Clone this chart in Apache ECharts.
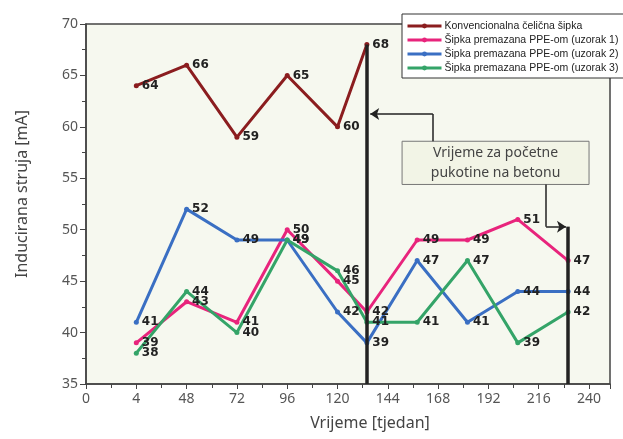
<!DOCTYPE html>
<html>
<head>
<meta charset="utf-8">
<script src="https://cdn.jsdelivr.net/npm/echarts@6/dist/echarts.min.js"></script>
<style>
  html, body { margin: 0; padding: 0; background: #fff; }
  #chart { width: 623px; height: 439px; }
</style>
</head>
<body>
<div id="chart"></div>
<script>
// podaci
const xTickLabels = ['0', '4', '48', '72', '96', '120', '144', '168', '192', '216', '240'];
const weeks = [24, 48, 72, 96, 120, 134, 158, 182, 206, 230];
const seriesNames = [
  'Konvencionalna čelična šipka',
  'Šipka premazana PPE-om (uzorak 1)',
  'Šipka premazana PPE-om (uzorak 2)',
  'Šipka premazana PPE-om (uzorak 3)'
];
const conventional = [64, 66, 59, 65, 60, 68];
const sample1 = [39, 43, 41, 50, 45, 42, 49, 49, 51, 47];
const sample2 = [41, 52, 49, 49, 42, 39, 47, 41, 44, 44];
const sample3 = [38, 44, 40, 49, 46, 41, 41, 47, 39, 42];
const colors = ['#8b1d1f', '#e8247c', '#3a6fc3', '#34a468'];

// vrijeme pojave pukotina (x, vrh linije)
const crackLines = [[134, 68], [230, 50.3]];
const noteText = 'Vrijeme za početne\npukotine na betonu';

const chart = echarts.init(document.getElementById('chart'));

function pairs(values) {
  return values.map((v, i) => [weeks[i], v]);
}

const allValues = [conventional, sample1, sample2, sample3];

const lineSeries = allValues.map((vals, i) => ({
  name: seriesNames[i],
  type: 'line',
  data: pairs(vals),
  color: colors[i],
  symbol: 'circle',
  symbolSize: 5,
  lineStyle: { width: 3, color: colors[i] },
  itemStyle: { color: colors[i] },
  z: 3,
  label: {
    show: true,
    position: 'right',
    distance: 3,
    color: '#222',
    fontFamily: 'DejaVu Sans',
    fontWeight: 'bold',
    fontSize: 12
  },
  emphasis: { disabled: true }
}));

// crte i strelice napomene
const annotation = {
  type: 'line',
  data: [],
  silent: true,
  z: 2,
  markLine: {
    silent: true,
    symbol: ['none', 'none'],
    symbolSize: 9,
    label: { show: false },
    emphasis: { disabled: true },
    lineStyle: { color: '#222', width: 1.5, type: 'solid' },
    data: [
      [{ coord: [crackLines[0][0], 35], lineStyle: { width: 3.5 } }, { coord: [crackLines[0][0], crackLines[0][1]] }],
      [{ coord: [crackLines[1][0], 35], lineStyle: { width: 3.5 } }, { coord: [crackLines[1][0], crackLines[1][1]] }],
      [{ coord: [165.5, 58.6] }, { coord: [165.5, 61.25] }],
      [{ coord: [165.5, 61.25] }, { coord: [135.6, 61.25], symbol: 'arrow' }],
      [{ coord: [219.5, 54.4] }, { coord: [219.5, 50.3] }],
      [{ coord: [219.5, 50.3] }, { coord: [229, 50.3], symbol: 'arrow' }]
    ]
  },
  markArea: {
    silent: true,
    itemStyle: { color: '#f2f4e6', borderColor: '#777', borderWidth: 1 },
    label: {
      show: true,
      position: 'inside',
      color: '#444',
      fontFamily: 'Noto Sans',
      fontSize: 14,
      lineHeight: 20,
      formatter: noteText
    },
    data: [[{ coord: [150.8, 58.6] }, { coord: [240, 54.4] }]]
  }
};

const option = {
  backgroundColor: '#fff',
  animation: false,
  grid: {
    left: 86, right: 13, top: 24, bottom: 55,
    show: true,
    backgroundColor: '#f6f8ef',
    borderColor: '#444',
    borderWidth: 1.5
  },
  legend: {
    orient: 'vertical',
    left: 402,
    top: 14,
    data: seriesNames,
    backgroundColor: '#fff',
    borderColor: '#333',
    borderWidth: 1,
    borderRadius: 0,
    padding: [6, 10, 4, 4],
    itemGap: 2,
    itemWidth: 34,
    itemHeight: 6,
    lineStyle: { width: 3 },
    textStyle: {
      fontFamily: 'Liberation Sans',
      fontSize: 10.5,
      lineHeight: 12,
      color: '#222',
      padding: [0, 0, 0, -2]
    }
  },
  xAxis: {
    type: 'value',
    min: 0,
    max: 250,
    interval: 24,
    name: 'Vrijeme [tjedan]',
    nameLocation: 'middle',
    nameGap: 31,
    nameTextStyle: { fontFamily: 'Noto Sans', fontSize: 16, color: '#444', padding: [0, 0, 0, 44] },
    axisLine: { lineStyle: { color: '#444', width: 1.5 } },
    axisTick: { show: true, length: 5, lineStyle: { color: '#444' } },
    minorTick: { show: true, splitNumber: 2, length: 4, lineStyle: { color: '#444' } },
    splitLine: { show: false },
    axisLabel: {
      showMaxLabel: false,
      fontFamily: 'Noto Sans',
      fontSize: 14,
      color: '#555',
      margin: 8,
      formatter: v => {
        const i = v / 24;
        return Number.isInteger(i) && xTickLabels[i] !== undefined ? xTickLabels[i] : '';
      }
    }
  },
  yAxis: {
    type: 'value',
    min: 35,
    max: 70,
    interval: 5,
    name: 'Inducirana struja [mA]',
    nameLocation: 'middle',
    nameGap: 56,
    nameTextStyle: { fontFamily: 'Noto Sans', fontSize: 16, color: '#444', padding: [0, 0, 0, 20] },
    axisLine: { show: true, lineStyle: { color: '#444', width: 1.5 } },
    axisTick: { show: true, length: 6, lineStyle: { color: '#444' } },
    minorTick: { show: true, splitNumber: 2, length: 4, lineStyle: { color: '#444' } },
    splitLine: { show: false },
    axisLabel: { fontFamily: 'Noto Sans', fontSize: 14, color: '#555', margin: 8 }
  },
  series: [annotation, ...lineSeries]
};

chart.setOption(option);
</script>
</body>
</html>
